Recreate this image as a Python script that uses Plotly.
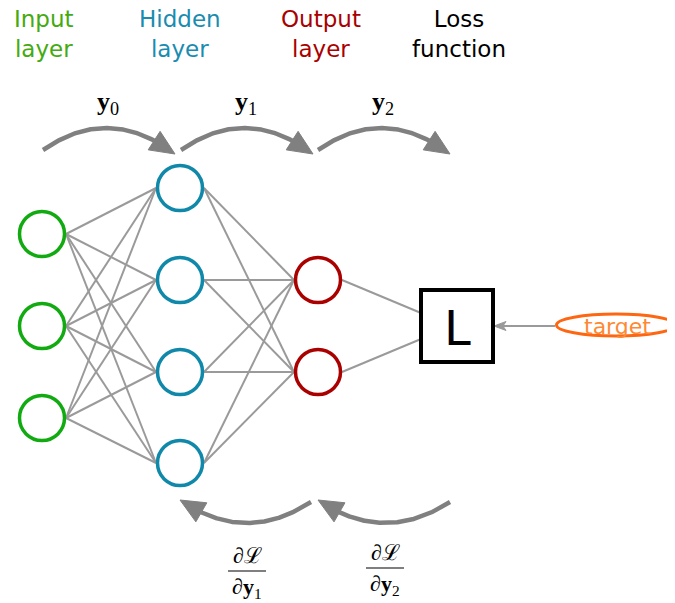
import numpy as np
import plotly.graph_objects as go

# ---------------- data ----------------
layer_titles = ["Input<br>layer", "Hidden<br>layer", "Output<br>layer", "Loss<br>function"]
title_x = [44, 180, 321, 459]
title_colors = ["#44aa11", "#1a8cb0", "#aa0000", "#000000"]

layer_x = [42, 180, 318]
input_y = [234, 326, 418]
hidden_y = [188, 280, 372, 463]
output_y = [280, 372]
node_colors = ["#11aa11", "#1088aa", "#aa0000"]
node_radius = 24

loss_box = [421, 290, 493, 362]          # x0, y0, x1, y1
loss_entry_y = [313, 339]
target_center = [616, 325]
target_radii = [61, 12.5]

# forward arrows (start, control, tip) and labels
fwd_start_x = [43, 181, 318]
fwd_tip_x = [175, 313, 450]
fwd_labels = ["<b>y</b><sub>0</sub>", "<b>y</b><sub>1</sub>", "<b>y</b><sub>2</sub>"]
# backward arrows
bwd_start_x = [311, 450]
bwd_tip_x = [180, 318]
bwd_den = ["∂<b>y</b><sub>1</sub>", "∂<b>y</b><sub>2</sub>"]

GRAY = "#808080"
EDGE = "#9a9a9a"
PAGE_OFFSET = 8   # default body margin of the html page

fig = go.Figure()

# ---------------- edges ----------------
ex, ey = [], []
layers = [input_y, hidden_y, output_y]
for li in range(2):
    for y0 in layers[li]:
        for y1 in layers[li + 1]:
            ex += [layer_x[li] + node_radius, layer_x[li + 1] - node_radius, None]
            ey += [y0, y1, None]
for y0, y1 in zip(output_y, loss_entry_y):
    ex += [layer_x[2] + node_radius, loss_box[0], None]
    ey += [y0, y1, None]
# target -> loss line
tcx, tcy = target_center
ex += [tcx - target_radii[0], loss_box[2] + 10, None]
ey += [tcy + 1, tcy + 1, None]
fig.add_trace(go.Scatter(x=ex, y=ey, mode="lines", line=dict(color=EDGE, width=2),
                         hoverinfo="skip", showlegend=False))
# small arrowhead into the box
fig.add_trace(go.Scatter(x=[loss_box[2] + 1, loss_box[2] + 13, loss_box[2] + 10, loss_box[2] + 13, loss_box[2] + 1],
                         y=[tcy + 1, tcy - 3.5, tcy + 1, tcy + 5.5, tcy + 1],
                         mode="lines", fill="toself", fillcolor=EDGE, line=dict(color=EDGE, width=1),
                         hoverinfo="skip", showlegend=False))

# ---------------- nodes ----------------
for li, ys in enumerate(layers):
    fig.add_trace(go.Scatter(x=[layer_x[li]] * len(ys), y=ys, mode="markers",
                             marker=dict(size=45, color="white",
                                         line=dict(color=node_colors[li], width=3.5)),
                             hoverinfo="skip", showlegend=False))

# ---------------- curved arrows ----------------
def curved_arrow(S, C, T, head_len=25, half_w=11):
    t = np.linspace(0, 1, 400)
    px = (1 - t) ** 2 * S[0] + 2 * (1 - t) * t * C[0] + t ** 2 * T[0]
    py = (1 - t) ** 2 * S[1] + 2 * (1 - t) * t * C[1] + t ** 2 * T[1]
    d = np.hypot(px - T[0], py - T[1])
    k = np.argmax(d < head_len)
    bx, by = px[k], py[k]
    fig.add_trace(go.Scatter(x=px[:k + 2], y=py[:k + 2], mode="lines",
                             line=dict(color=GRAY, width=4.5), hoverinfo="skip", showlegend=False))
    dx, dy = T[0] - bx, T[1] - by
    L = np.hypot(dx, dy)
    nx, ny = -dy / L, dx / L
    hx = [T[0], bx + nx * half_w, bx - nx * half_w, T[0]]
    hy = [T[1], by + ny * half_w, by - ny * half_w, T[1]]
    fig.add_trace(go.Scatter(x=hx, y=hy, mode="lines", fill="toself", fillcolor=GRAY,
                             line=dict(color=GRAY, width=1), hoverinfo="skip", showlegend=False))

for s, tp in zip(fwd_start_x, fwd_tip_x):
    curved_arrow((s, 150), ((s + tp) / 2, 104), (tp, 154))
for s, tp in zip(bwd_start_x, bwd_tip_x):
    curved_arrow((s, 502), ((s + tp) / 2, 545), (tp, 500))

# ---------------- shapes ----------------
shapes = [
    dict(type="rect", xref="x", yref="y", x0=loss_box[0], y0=loss_box[1], x1=loss_box[2], y1=loss_box[3],
         line=dict(color="black", width=4), fillcolor="white", layer="above"),
    dict(type="circle", xref="x", yref="y",
         x0=tcx - target_radii[0] + 1.5, x1=tcx + target_radii[0] - 1.5,
         y0=tcy - target_radii[1] + 1.5, y1=tcy + target_radii[1] - 1.5,
         line=dict(color="#ff6611", width=3), fillcolor="white"),
]
frac_x = [247, 385]
frac_line_y = [571, 568]
for fx, fy in zip(frac_x, frac_line_y):
    shapes.append(dict(type="line", xref="x", yref="y", x0=fx - 19, x1=fx + 19, y0=fy, y1=fy,
                       line=dict(color="black", width=1.2)))

# ---------------- annotations ----------------
ann = []
for txt, x, c in zip(layer_titles, title_x, title_colors):
    ann.append(dict(x=x, y=34, text=txt, showarrow=False, xanchor="center", yanchor="middle",
                    font=dict(family="DejaVu Sans", size=23, color=c)))
for s, tp, lab in zip(fwd_start_x, fwd_tip_x, fwd_labels):
    ann.append(dict(x=(s + tp) / 2 - 1, y=103, text=lab, showarrow=False,
                    font=dict(family="Liberation Serif", size=26, color="black")))
for fx, fy, den in zip(frac_x, frac_line_y, bwd_den):
    ann.append(dict(x=fx, y=fy - 1, text="∂ℒ", showarrow=False, yanchor="bottom",
                    font=dict(family="Liberation Serif", size=22, color="black")))
    ann.append(dict(x=fx, y=fy + 1, text=den, showarrow=False, yanchor="top",
                    font=dict(family="Liberation Serif", size=22, color="black")))
ann.append(dict(x=(loss_box[0] + loss_box[2]) / 2, y=(loss_box[1] + loss_box[3]) / 2 + 2, text="L",
                showarrow=False, font=dict(family="DejaVu Sans", size=48, color="black")))
ann.append(dict(x=tcx + 1, y=tcy + 1, text="target", showarrow=False,
                font=dict(family="DejaVu Sans", size=22, color="#ff8833")))

fig.update_layout(
    width=675 - PAGE_OFFSET, height=603 - PAGE_OFFSET, margin=dict(l=0, r=0, t=0, b=0),
    paper_bgcolor="white", plot_bgcolor="white",
    xaxis=dict(range=[PAGE_OFFSET, 675], visible=False, fixedrange=True),
    yaxis=dict(range=[603, PAGE_OFFSET], visible=False, fixedrange=True),
    shapes=shapes, annotations=ann, showlegend=False,
)
fig.write_html("out.html")
